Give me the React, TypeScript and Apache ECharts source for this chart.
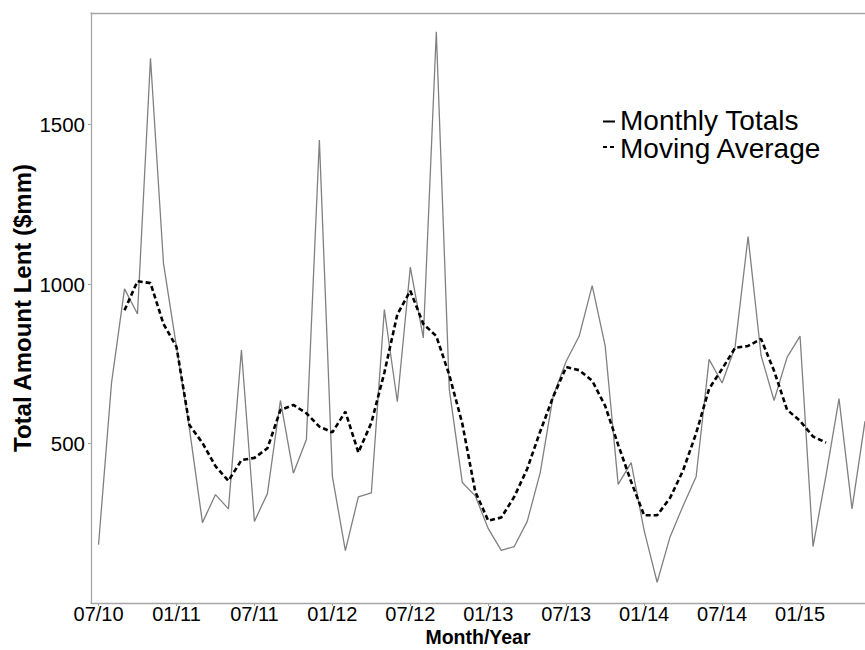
import React, { useEffect, useRef } from "react";
import * as echarts from "echarts";

const months: string[] = [
  "07/10", "08/10", "09/10", "10/10", "11/10", "12/10",
  "01/11", "02/11", "03/11", "04/11", "05/11", "06/11",
  "07/11", "08/11", "09/11", "10/11", "11/11", "12/11",
  "01/12", "02/12", "03/12", "04/12", "05/12", "06/12",
  "07/12", "08/12", "09/12", "10/12", "11/12", "12/12",
  "01/13", "02/13", "03/13", "04/13", "05/13", "06/13",
  "07/13", "08/13", "09/13", "10/13", "11/13", "12/13",
  "01/14", "02/14", "03/14", "04/14", "05/14", "06/14",
  "07/14", "08/14", "09/14", "10/14", "11/14", "12/14",
  "01/15", "02/15", "03/15", "04/15", "05/15", "06/15",
];

const monthlyTotals: number[] = [
  183, 690, 985, 906, 1708, 1065,
  803, 546, 252, 340, 295, 793,
  256, 343, 635, 407, 513, 1452,
  397, 164, 333, 345, 920, 631,
  1053, 831, 1791, 670, 378, 336,
  233, 165, 177, 256, 409, 650,
  758, 837, 995, 806, 372, 440,
  227, 65, 208, 305, 396, 764,
  690, 803, 1149, 776, 635, 770,
  837, 177, 400, 641, 295, 570,
];

const movingAverage: (number | null)[] = [
  null, null, 918, 1009, 1003, 875,
  803, 558, 502, 429, 383, 448,
  455, 485, 605, 621, 595, 553,
  535, 600, 472, 565, 722, 905,
  979, 875, 837, 715, 563, 349,
  258, 268, 333, 421, 538, 647,
  740, 730, 697, 618, 496, 380,
  275, 275, 330, 416, 532, 672,
  734, 800, 806, 828, 728, 606,
  571, 522, 503, null, null, null,
];

const xTickLabels: string[] = ["07/10", "01/11", "07/11", "01/12", "07/12", "01/13", "07/13", "01/14", "07/14", "01/15"];
const yTickValues: number[] = [500, 1000, 1500];

const legendLabels: string[] = ["Monthly Totals", "Moving Average"];

const FONT = "'Liberation Sans', Arial, Helvetica, sans-serif";
const AXIS_GRAY = "#a6a6a6";

export default function App() {
  const ref = useRef<HTMLDivElement | null>(null);

  useEffect(() => {
    if (!ref.current) return;
    const chart = echarts.init(ref.current, undefined, { renderer: "svg" });

    const xTickIdx = xTickLabels.map((l) => months.indexOf(l));
    const totalsData = monthlyTotals.map((v, i) => [i, v]);
    const maData = movingAverage.map((v, i) => [i, v]);

    chart.setOption({
      animation: false,
      backgroundColor: "#ffffff",
      grid: {
        left: 91,
        right: 0,
        top: 13,
        bottom: 47,
        containLabel: false,
        outerBoundsMode: "none",
      },
      xAxis: [
        {
          type: "value",
          min: -0.58,
          max: 59,
          position: "bottom",
          splitLine: { show: false },
          axisLine: { show: true, onZero: false, lineStyle: { color: AXIS_GRAY, width: 1.3 } },
          axisTick: {
            show: true,
            length: 3,
            customValues: xTickIdx,
            lineStyle: { color: AXIS_GRAY, width: 1 },
          },
          axisLabel: {
            show: true,
            customValues: xTickIdx,
            formatter: (v: number) => months[Math.round(v)] ?? "",
            color: "#000000",
            fontSize: 20,
            lineHeight: 20,
            fontFamily: FONT,
            margin: 1,
          },
          name: "Month/Year",
          nameLocation: "middle",
          nameGap: 24,
          nameMoveOverlap: false,
          nameTextStyle: {
            color: "#000000",
            fontSize: 19.5,
            lineHeight: 20,
            fontWeight: "bold",
            fontFamily: FONT,
          },
        },
        {
          type: "value",
          min: -0.58,
          max: 59,
          position: "top",
          splitLine: { show: false },
          axisLine: { show: true, onZero: false, lineStyle: { color: AXIS_GRAY, width: 1.3 } },
          axisTick: { show: false },
          axisLabel: { show: false },
        },
      ],
      yAxis: {
        type: "value",
        min: 0,
        max: 1850,
        splitLine: { show: false },
        axisLine: { show: true, onZero: false, lineStyle: { color: AXIS_GRAY, width: 1.3 } },
        axisTick: {
          show: true,
          length: 3,
          customValues: yTickValues,
          lineStyle: { color: AXIS_GRAY, width: 1 },
        },
        axisLabel: {
          show: true,
          customValues: yTickValues,
          formatter: (v: number) => String(v),
          color: "#000000",
          fontSize: 20.5,
          fontFamily: FONT,
          margin: 6,
        },
        name: "Total Amount Lent ($mm)",
        nameLocation: "middle",
        nameRotate: 90,
        nameGap: 57,
        nameMoveOverlap: false,
        nameTextStyle: { color: "#000000", fontSize: 24, fontWeight: "bold", fontFamily: FONT },
      },
      series: [
        {
          name: legendLabels[0],
          type: "line",
          xAxisIndex: 0,
          data: totalsData,
          showSymbol: false,
          symbol: "none",
          lineStyle: { color: "#808080", width: 1.3 },
          z: 2,
        },
        {
          name: legendLabels[1],
          type: "line",
          xAxisIndex: 0,
          data: maData,
          showSymbol: false,
          symbol: "none",
          connectNulls: false,
          lineStyle: { color: "#000000", width: 2.6, type: [5, 3] },
          z: 3,
        },
      ],
      graphic: [
        {
          type: "line",
          shape: { x1: 603, y1: 121.5, x2: 615, y2: 121.5 },
          style: { stroke: "#000000", lineWidth: 2 },
        },
        {
          type: "line",
          shape: { x1: 603, y1: 147, x2: 614, y2: 147 },
          style: { stroke: "#000000", lineWidth: 2, lineDash: [4, 3] },
        },
        {
          type: "text",
          x: 620,
          y: 120.5,
          style: {
            text: legendLabels[0],
            fill: "#000000",
            font: `28px ${FONT}`,
            verticalAlign: "middle",
          },
        },
        {
          type: "text",
          x: 620,
          y: 148.5,
          style: {
            text: legendLabels[1],
            fill: "#000000",
            font: `28px ${FONT}`,
            verticalAlign: "middle",
          },
        },
      ],
    });

    return () => {
      chart.dispose();
    };
  }, []);

  return (
    <div
      ref={ref}
      style={{ position: "fixed", left: 0, top: 0, width: 865, height: 650, background: "#ffffff" }}
    />
  );
}
